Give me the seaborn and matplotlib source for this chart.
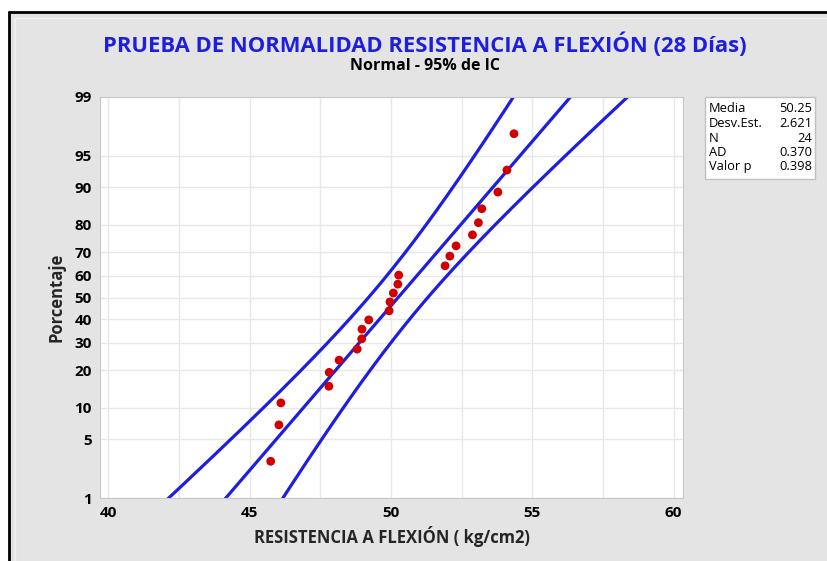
import numpy as np
import pandas as pd
import seaborn as sns
import matplotlib
matplotlib.use("Agg")
import matplotlib.pyplot as plt
from matplotlib.patches import Rectangle
from statistics import NormalDist

# datos (24 probetas, kg/cm2)
resistencia = [45.74, 46.03, 46.10, 47.80, 47.81, 48.16, 48.80, 48.97, 48.96, 49.21,
               49.93, 49.96, 50.08, 50.24, 50.27, 51.91, 52.08, 52.30, 52.88, 53.09,
               53.21, 53.78, 54.10, 54.35]
media = 50.25
desv = 2.621
n_datos = 24
ad = 0.370
valor_p = 0.398
pct_ticks = [1, 5, 10, 20, 30, 40, 50, 60, 70, 80, 90, 95, 99]
x_ticks = [40, 45, 50, 55, 60]

nd = NormalDist()
azul = "#1e1ee0"
rojo = "#d00000"

sns.set_style("white")
plt.rcParams['font.family'] = ['Open Sans', 'DejaVu Sans']

fig = plt.figure(figsize=(8.27, 5.61), dpi=100)
fig.patch.set_facecolor("#e4e4e4")
W, H = 827, 561
ax = fig.add_axes([100 / W, (H - 498) / H, (683 - 100) / W, (498 - 97) / H])
ax.set_facecolor("white")

# puntos en rangos medianos
xs = np.sort(resistencia)
p = (np.arange(1, n_datos + 1) - 0.3) / (n_datos + 0.4)
df_pts = pd.DataFrame({"x": xs, "z": [nd.inv_cdf(v) for v in p]})

# recta ajustada y banda de confianza 95%
z = np.linspace(-2.6, 2.6, 200)
hw = 1.96 * desv * np.sqrt(1 / n_datos + z ** 2 / (2 * n_datos))
ajuste = media + desv * z
for xv in [ajuste, ajuste - hw, ajuste + hw]:
    sns.lineplot(x=xv, y=z, sort=False, estimator=None, color=azul, lw=2.3, ax=ax)
sns.scatterplot(data=df_pts, x="x", y="z", color=rojo, s=40, edgecolor="none", ax=ax, zorder=5)

ax.set_xlim(39.70, 60.33)
ax.set_ylim(nd.inv_cdf(0.01), nd.inv_cdf(0.99))
ax.set_xticks(x_ticks)
ax.set_xticks(np.arange(42.5, 60, 5), minor=True)
ax.set_yticks([nd.inv_cdf(v / 100) for v in pct_ticks])
ax.set_yticklabels([str(v) for v in pct_ticks])
ax.grid(True, which="both", color="#e8e8e8", lw=1)
ax.tick_params(axis="both", which="major", direction="out", length=4, color="#b0b0b0",
               labelsize=11, labelcolor="black", pad=2)
ax.tick_params(axis="x", which="minor", length=0)
for lab in ax.get_xticklabels() + ax.get_yticklabels():
    lab.set_fontweight("bold")
for s in ax.spines.values():
    s.set_color("#c8c8c8")
ax.set_xlabel("RESISTENCIA A FLEXIÓN ( kg/cm2)", fontsize=12, fontweight="bold", labelpad=4)
ax.set_ylabel("Porcentaje", fontsize=12, fontweight="bold", labelpad=6)

fig.text(425 / W, 1 - 45 / H, "PRUEBA DE NORMALIDAD RESISTENCIA A FLEXIÓN (28 Días)",
         ha="center", va="center", color=azul, fontsize=15.8, fontweight="bold")
fig.text(425 / W, 1 - 66 / H, "Normal - 95% de IC", ha="center", va="center",
         color="black", fontsize=11.5, fontweight="bold")

# cuadro de estadisticos
fig.patches.append(Rectangle((705 / W, 1 - 179 / H), 110 / W, 82 / H, transform=fig.transFigure,
                             facecolor="white", edgecolor="#c0c0c0", lw=1))
etiquetas = ["Media", "Desv.Est.", "N", "AD", "Valor p"]
valores = [f"{media:.2f}", f"{desv:.3f}", f"{n_datos}", f"{ad:.3f}", f"{valor_p:.3f}"]
for i, (e, v) in enumerate(zip(etiquetas, valores)):
    yy = 1 - (109 + i * 14.5) / H
    fig.text(709 / W, yy, e, ha="left", va="center", fontsize=9.3, color="black")
    fig.text(812 / W, yy, v, ha="right", va="center", fontsize=9.3, color="black")

# marco exterior
fig.patches.append(Rectangle((0, 1 - 11 / H), 1, 11 / H, transform=fig.transFigure,
                             facecolor="white", edgecolor="none"))
fig.patches.append(Rectangle((0, 0), 9 / W, 1, transform=fig.transFigure,
                             facecolor="white", edgecolor="none"))
fig.add_artist(plt.Line2D([9 / W, 9 / W], [0, 1 - 12 / H], color="black", lw=2, transform=fig.transFigure))
fig.add_artist(plt.Line2D([9 / W, 1], [1 - 12 / H, 1 - 12 / H], color="black", lw=2, transform=fig.transFigure))
fig.add_artist(plt.Line2D([15 / W, 15 / W], [0, 1 - 18 / H], color="#f2f2f2", lw=1, transform=fig.transFigure))
fig.add_artist(plt.Line2D([15 / W, 1], [1 - 18 / H, 1 - 18 / H], color="#f2f2f2", lw=1, transform=fig.transFigure))

fig.savefig("out.png", dpi=100)
